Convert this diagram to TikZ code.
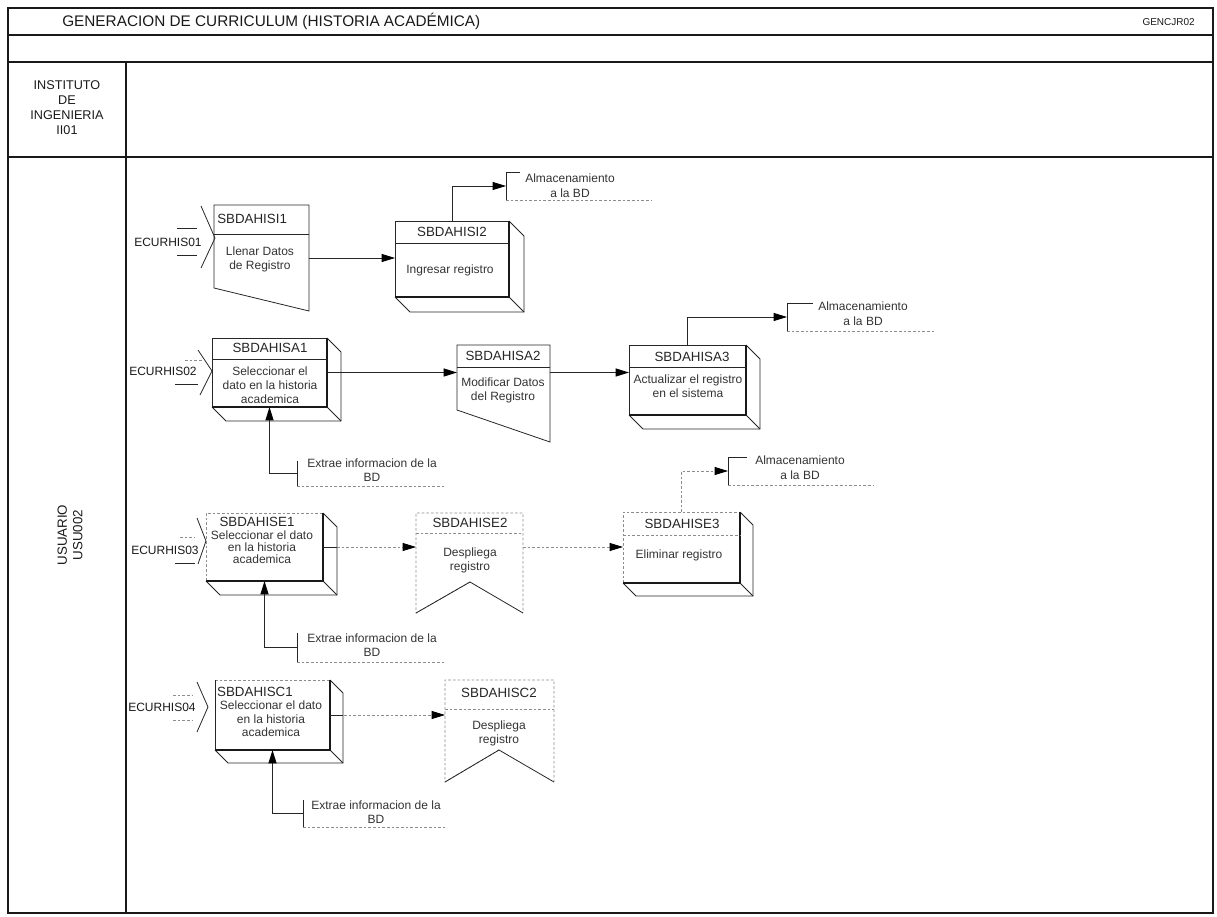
\documentclass[tikz,border=0pt]{standalone}
\usepackage{fontspec}
\setmainfont{Liberation Sans}
\usetikzlibrary{arrows.meta,calc}
\newcommand\facenode[5]{\node[face,minimum width={(#4-#2)*0.75pt},minimum height={(#5-#3)*0.75pt}] (#1) at (#2,#3) {};}
\newcommand\cubeside[2]{\draw[bl] (#1.north east) -- ++(#2,#2) -- ($(#1.south east)+(#2,#2)$) -- ($(#1.south west)+(#2,#2)$) -- (#1.south west); \draw[bl] (#1.south east) -- ++(#2,#2);}
\begin{document}
\begin{tikzpicture}[x=0.75pt,y=-0.75pt,
  frame/.style={draw=black!90,line width=1.4pt},
  bl/.style={draw=black!85,line width=0.6pt},
  bbl/.style={draw=black!90,line width=1.1pt},
  fl/.style={draw=black!45,line width=0.6pt,dash pattern=on 2pt off 1.5pt},
  arr/.style={-{Triangle[length=10pt,width=6pt,fill=black,color=black]}},
  face/.style={draw=none,inner sep=0pt,outer sep=0pt,anchor=north west},
  hdr/.style={font=\fontsize{10}{11}\selectfont,text=black!85,inner sep=0pt},
  bdy/.style={font=\fontsize{9}{10.5}\selectfont,text=black!80,align=center,inner sep=0pt},
  lbl/.style={font=\fontsize{9}{11}\selectfont,text=black!80,align=center,inner sep=0pt},
  inl/.style={font=\fontsize{9}{11}\selectfont,text=black!90,inner sep=0pt}
]
\useasboundingbox (0,0) rectangle (1217,917);
% ---------- frame ----------
\draw[frame] (8,8) rectangle (1213,913);
\draw[frame] (8,35) -- (1213,35);
\draw[frame] (8,62) -- (1213,62);
\draw[frame] (8,157) -- (1213,157);
\draw[frame] (126,62) -- (126,913);
\node[anchor=west,inner sep=0pt,font=\fontsize{11.5}{13}\selectfont,text=black!90] (title) at (62,21) {GENERACION DE CURRICULUM (HISTORIA ACADÉMICA)};
\node[anchor=east,inner sep=0pt,font=\fontsize{7.5}{9}\selectfont,text=black!90] (code) at (1195,22) {GENCJR02};
\node[align=center,inner sep=0pt,font=\fontsize{9.5}{11.25}\selectfont,text=black!90] (inst) at (67,108) {INSTITUTO\\DE\\INGENIERIA\\II01};
\node[rotate=90,align=center,inner sep=0pt,font=\fontsize{10}{11.5}\selectfont,text=black!90] (usu) at (70,535) {USUARIO\\USU002};

% ================= ROW 1 =================
\facenode{I1}{214}{205}{309}{311}
\draw[bl] (I1.north west) -- (I1.north east) -- (I1.south east) -- (214,288) -- cycle;
\draw[bl] (214,234) -- (309,234);
\node[hdr,anchor=west] (I1h) at (217,219) {SBDAHISI1};
\node[bdy] (I1b) at (260,259) {Llenar Datos\\de Registro};

\node[inl] (in1) at (168,242) {ECURHIS01};
\draw[bl] (177,228) -- (197,228);
\draw[bl] (177,255) -- (197,255);
\draw[bl] (201,206) -- (215,238) -- (201,268);

\facenode{I2}{395}{221}{509}{297}
\draw[bl] (I2.north west) rectangle (I2.south east);
\cubeside{I2}{15}
\draw[bbl] (I2.north east) -- (I2.south east) -- (I2.south west);
\draw[bl] (395,243) -- (509,243);
\node[hdr] (I2h) at (452,232) {SBDAHISI2};
\node[bdy] (I2b) at (450,270) {Ingresar registro};

\draw[bl,arr] (I1.east) -- (I1.east -| I2.west);

\facenode{SI}{506}{172}{652}{200}
\draw[bl] (520,172) -- (506,172) -- (506,200);
\draw[fl] (506,200) -- (652,200);
\node[lbl] (SIt) at (570,186) {Almacenamiento\\a la BD};
\draw[bl,arr] (I2.north) |- (SI.west);

% ================= ROW 2 =================
\node[inl] (in2) at (163,371) {ECURHIS02};
\draw[fl] (185,360) -- (202,360);
\draw[bl] (175,384) -- (198,384);
\draw[bl] (198,350) -- (212,371) -- (200,395);

\facenode{A1}{212}{338}{327}{407}
\draw[bl] (A1.north west) rectangle (A1.south east);
\cubeside{A1}{14}
\draw[bbl] (A1.north east) -- (A1.south east) -- (A1.south west);
\draw[bl] (212,359) -- (327,359);
\node[hdr] (A1h) at (270,348) {SBDAHISA1};
\node[bdy] (A1b) at (270,385) {Seleccionar el\\dato en la historia\\academica};

\facenode{A2}{457}{345}{550}{442}
\draw[bl] (A2.north west) -- (A2.north east) -- (A2.south east) -- (457,410) -- cycle;
\draw[bl] (457,367) -- (550,367);
\node[hdr] (A2h) at (503,356) {SBDAHISA2};
\node[bdy] (A2b) at (503,390) {Modificar Datos\\del Registro};

\facenode{A3}{629}{345}{746}{415}
\draw[bl] (A3.north west) rectangle (A3.south east);
\cubeside{A3}{14}
\draw[bbl] (A3.north east) -- (A3.south east) -- (A3.south west);
\draw[bl] (629,367) -- (746,367);
\node[hdr] (A3h) at (692,357) {SBDAHISA3};
\node[bdy] (A3b) at (688,386) {Actualizar el registro\\en el sistema};

\draw[bl,arr] (A1.east) -- (A1.east -| A2.west);
\draw[bl,arr] (A1.east -| A2.east) -- (A1.east -| A3.west);

\facenode{SA}{787}{303}{935}{331}
\draw[bl] (813,303) -- (787,303) -- (787,331);
\draw[fl] (787,331) -- (935,331);
\node[lbl] (SAt) at (863,314) {Almacenamiento\\a la BD};
\draw[bl,arr] (A3.north) |- (SA.west);

\facenode{XA}{297}{461}{445}{486}
\draw[bl] (297,461) -- (297,486);
\draw[fl] (297,486) -- (445,486);
\node[lbl] (XAt) at (372,470) {Extrae informacion de la\\BD};
\draw[bl,arr] (XA.west) -| (A1.south);

% ================= ROW 3 =================
\node[inl] (in3) at (165,550) {ECURHIS03};
\draw[fl] (180,537) -- (195,537);
\draw[bl] (175,563) -- (195,563);
\draw[bl] (197,518) -- (206,541) -- (198,564);

\facenode{E1}{206}{513}{323}{581}
\draw[fl] (E1.south west) -- (E1.north west) -- (E1.north east);
\cubeside{E1}{14}
\draw[bbl] (E1.north east) -- (E1.south east) -- (E1.south west);
\node[hdr] (E1h) at (257,522) {SBDAHISE1};
\node[bdy,font=\fontsize{9}{8.8}\selectfont] (E1b) at (262,547) {Seleccionar el dato\\en la historia\\academica};

\facenode{E2}{416}{513}{523}{613}
\draw[fl] (470,582) -- (416,613) -- (416,513) -- (523,513) -- (523,613);
\draw[bl] (416,613) -- (470,582) -- (523,613);
\draw[fl] (416,533) -- (523,533);
\node[hdr] (E2h) at (470,523) {SBDAHISE2};
\node[bdy] (E2b) at (470,560) {Despliega\\registro};

\facenode{E3}{623}{512}{740}{583}
\draw[fl] (E3.south west) -- (E3.north west) -- (E3.north east);
\cubeside{E3}{13}
\draw[bbl] (E3.north east) -- (E3.south east) -- (E3.south west);
\draw[fl] (623,535) -- (740,535);
\node[hdr] (E3h) at (682,524) {SBDAHISE3};
\node[bdy] (E3b) at (679,555) {Eliminar registro};

\draw[fl,arr] (E1.east) -- (E1.east -| E2.west);
\draw[bl] (E1.east) -- ++(14,0);
\draw[fl,arr] (E1.east -| E2.east) -- (E1.east -| E3.west);

\facenode{SE}{728}{457}{873}{485}
\draw[bl] (747,457) -- (728,457) -- (728,485);
\draw[fl] (728,485) -- (873,485);
\node[lbl] (SEt) at (800,468) {Almacenamiento\\a la BD};
\draw[fl,arr] (E3.north) |- (SE.west);

\facenode{XE}{297}{633}{445}{662}
\draw[bl] (297,633) -- (297,662);
\draw[fl] (297,662) -- (445,662);
\node[lbl] (XEt) at (372,645) {Extrae informacion de la\\BD};
\draw[bl,arr] (XE.west) -| (E1.south);

% ================= ROW 4 =================
\node[inl] (in4) at (162,707) {ECURHIS04};
\draw[fl] (173,695) -- (193,695);
\draw[fl] (173,720) -- (193,720);
\draw[bl] (197,682) -- (208,707) -- (197,732);

\facenode{C1}{215}{680}{330}{750}
\draw[fl] (C1.north west) -- (C1.north east);
\draw[bl] (C1.north west) -- (C1.south west);
\cubeside{C1}{13}
\draw[bbl] (C1.north east) -- (C1.south east) -- (C1.south west);
\node[hdr] (C1h) at (255,692) {SBDAHISC1};
\node[bdy,font=\fontsize{9}{10}\selectfont] (C1b) at (271,719) {Seleccionar el dato\\en la historia\\academica};

\facenode{C2}{445}{680}{554}{782}
\draw[fl] (499,750) -- (445,782) -- (445,680) -- (554,680) -- (554,782);
\draw[bl] (445,782) -- (499,750) -- (554,782);
\draw[fl] (445,709) -- (554,709);
\node[hdr] (C2h) at (499,693) {SBDAHISC2};
\node[bdy] (C2b) at (499,733) {Despliega\\registro};

\draw[fl,arr] (C1.east) -- (C1.east -| C2.west);
\draw[bl] (C1.east) -- ++(13,0);

\facenode{XC}{303}{800}{445}{827}
\draw[bl] (303,800) -- (303,827);
\draw[fl] (303,827) -- (445,827);
\node[lbl] (XCt) at (376,812) {Extrae informacion de la\\BD};
\draw[bl,arr] (XC.west) -| (C1.south);
\end{tikzpicture}
\end{document}
